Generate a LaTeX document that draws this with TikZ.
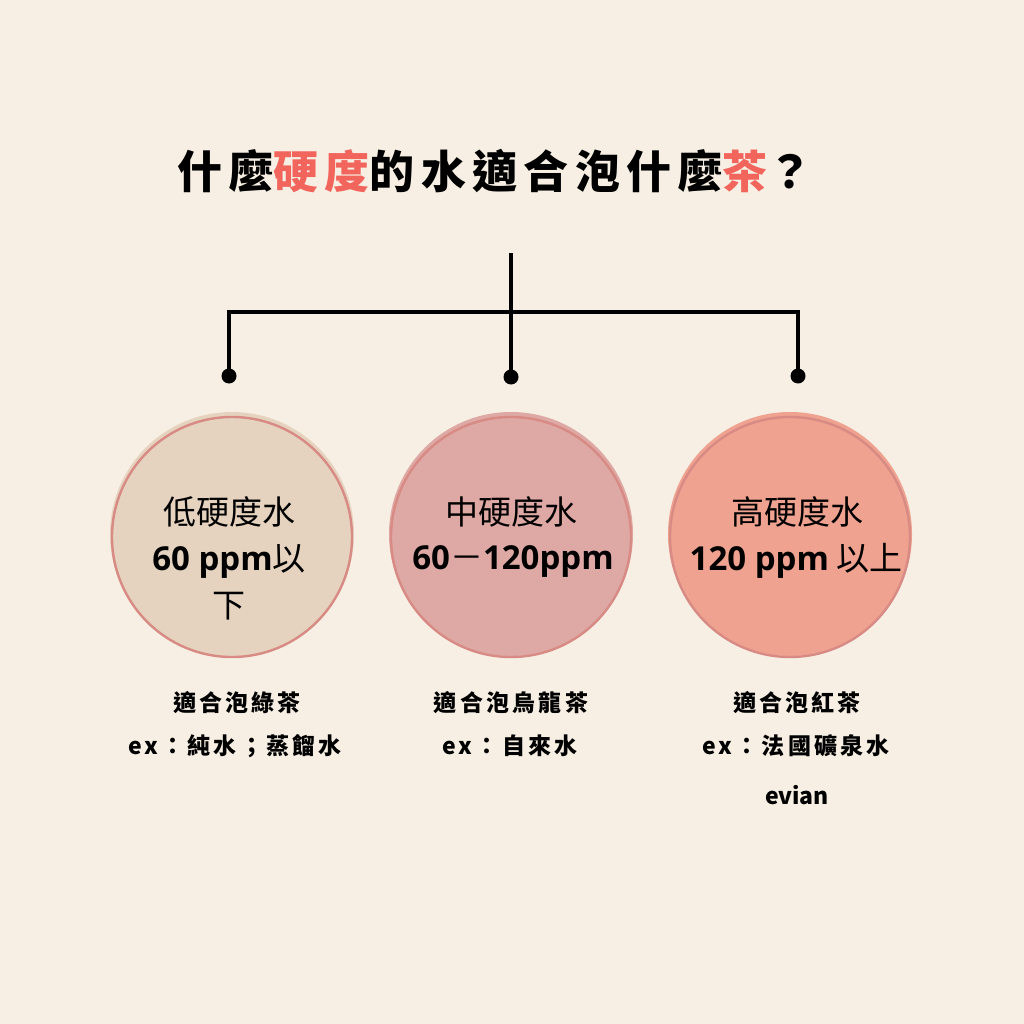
\documentclass[tikz,border=0pt]{standalone}
\usepackage{fontspec}
\setmainfont{Noto Sans}
\newfontfamily\cjk{Noto Sans CJK TC}
\newfontfamily\cjkwide[LetterSpace=14]{Noto Sans CJK TC}
\newfontfamily\lat{Open Sans}
\definecolor{bg}{HTML}{F7EFE3}
\definecolor{ttlred}{HTML}{F2655D}
\definecolor{fillA}{HTML}{E5D3BF}
\definecolor{fillB}{HTML}{DEA9A5}
\definecolor{fillC}{HTML}{EFA28F}
\definecolor{ringc}{HTML}{D88A84}
\begin{document}
\begin{tikzpicture}[x=1pt,y=-1pt,
  disc/.style={circle,minimum size=244pt,inner sep=0pt},
  ring/.style={circle,minimum size=240pt,inner sep=0pt,draw=ringc,line width=2.4pt},
  wire/.style={line width=3.5pt,black},
  dotc/.style={circle,fill=black,minimum width=13pt,minimum height=15pt,inner sep=0pt},
  lbl/.style={font=\cjk\fontsize{33}{40}\selectfont,align=center},
  sub/.style={font=\cjkwide\bfseries\fontsize{23}{26}\selectfont}]
\fill[bg] (0,0) rectangle (1024,1024);
\useasboundingbox (0,0) rectangle (1024,1024);

\node[font=\cjkwide\bfseries\fontsize{45}{50}\selectfont] (title) at (495,171)
  {什麼\textcolor{ttlred}{硬度}的水適合泡什麼\textcolor{ttlred}{茶}？};

% circles
\node[disc,fill=fillA] (c1) at (232,534) {};
\node[ring] (r1) at (232,537) {};
\node[disc,fill=fillB] (c2) at (511,534) {};
\node[ring] (r2) at (511,537) {};
\node[disc,fill=fillC] (c3) at (790,534) {};
\node[ring] (r3) at (790,537) {};

% connectors
\coordinate (top) at (511,253);
\coordinate (bus) at (511,312);
\coordinate (busL) at (229,312);
\coordinate (busR) at (798,312);
\node[dotc] (d1) at (229,376) {};
\node[dotc] (d2) at (511,377) {};
\node[dotc] (d3) at (798,376) {};
\draw[wire] (top) -- (d2.center);
\draw[wire] ([xshift=-1.75pt]busL) -- ([xshift=1.75pt]busR);
\draw[wire] (busL) -- (d1.center);
\draw[wire] (busR) -- (d3.center);

% circle labels
\node[lbl] (t1a) at (229,512) {低硬度水};
\node[lbl] (t1b) at (229,561) {{\lat\bfseries 60 ppm}以};
\node[lbl] (t1c) at (229,606) {下};
\node[lbl] (t2a) at (511,512) {中硬度水};
\node[lbl] (t2b) at (513,561) {{\lat\bfseries 60}－{\lat\bfseries 120ppm}};
\node[lbl] (t3a) at (797,512) {高硬度水};
\node[lbl] (t3b) at (796,561) {{\lat\bfseries 120 ppm} 以上};

% lower texts
\node[sub] (s1a) at (237,703) {適合泡綠茶};
\node[sub] (s1b) at (235,746) {ex：純水；蒸餾水};
\node[sub] (s2a) at (511,703) {適合泡烏龍茶};
\node[sub] (s2b) at (510,746) {ex：自來水};
\node[sub] (s3a) at (797,703) {適合泡紅茶};
\node[sub] (s3b) at (796,746) {ex：法國礦泉水};
\node[sub,font=\cjk\bfseries\fontsize{23}{26}\selectfont] (s3c) at (797,795) {evian};
\end{tikzpicture}
\end{document}
